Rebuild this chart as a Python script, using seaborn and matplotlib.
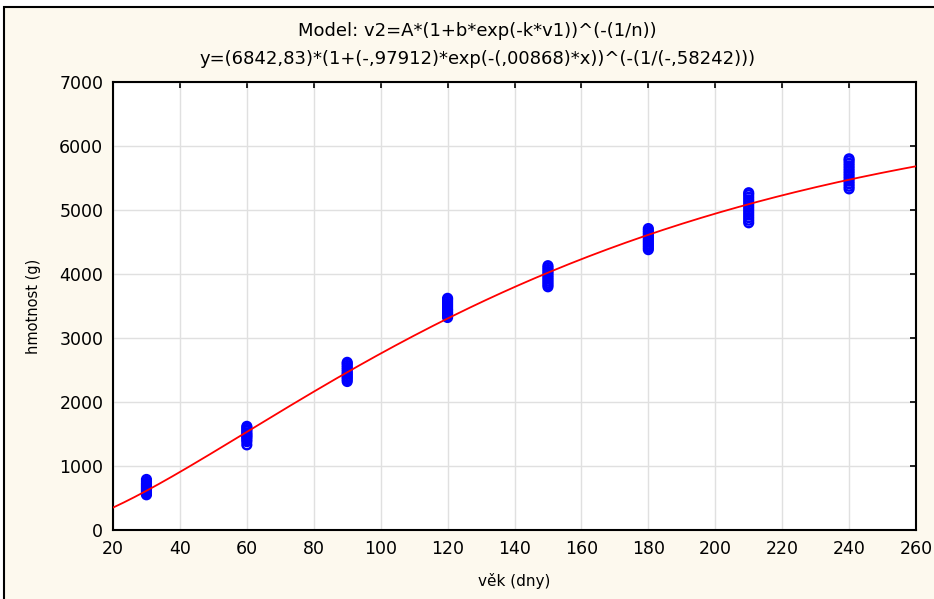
import numpy as np
import pandas as pd
import matplotlib
matplotlib.use('Agg')
import matplotlib.pyplot as plt
import seaborn as sns
from matplotlib.patches import Rectangle

# Dados: idade (dias) e hmotnost (g) de cada medição
ages = [30, 60, 90, 120, 150, 180, 210, 240]
weights = [
    [550, 570, 590, 610, 630, 650, 670, 690, 710, 730, 760, 790],
    [1330, 1380, 1410, 1440, 1460, 1480, 1500, 1520, 1550, 1570, 1600, 1620],
    [2320, 2350, 2380, 2400, 2430, 2450, 2480, 2510, 2540, 2570, 2600, 2620],
    [3320, 3350, 3380, 3400, 3430, 3450, 3480, 3510, 3540, 3570, 3600, 3620],
    [3800, 3830, 3860, 3890, 3920, 3950, 3980, 4010, 4040, 4070, 4100, 4130],
    [4380, 4410, 4440, 4470, 4500, 4530, 4560, 4590, 4620, 4650, 4680, 4710],
    [4800, 4840, 4880, 4920, 4960, 5000, 5040, 5080, 5120, 5160, 5200, 5240, 5270],
    [5330, 5370, 5410, 5450, 5490, 5530, 5570, 5610, 5650, 5690, 5730, 5770, 5800],
]

# Parâmetros do modelo (do título)
A, b, k, n = 6842.83, -0.97912, 0.00868, -0.58242

rows = [(a, w) for a, ws in zip(ages, weights) for w in ws]
df = pd.DataFrame(rows, columns=['vek', 'hmotnost'])

x_fit = np.linspace(20, 260, 300)
fit = pd.DataFrame({'vek': x_fit,
                    'hmotnost': A * (1 + b * np.exp(-k * x_fit)) ** (-(1 / n))})

sns.set_style('white')
plt.rcParams['font.family'] = ['DejaVu Sans']
plt.rcParams['text.color'] = 'black'
plt.rcParams['axes.labelcolor'] = 'black'

fig = plt.figure(figsize=(9.34, 5.99), dpi=100, facecolor='white')
# moldura creme com borda preta
fig.patches.append(Rectangle((0.004, -0.05), 1.1, 1.05 - 7 / 599, transform=fig.transFigure,
                             facecolor='#FDF9EE', edgecolor='black', linewidth=1.5, zorder=-1))
ax = fig.add_axes([113 / 934, 1 - 530 / 599, (916 - 113) / 934, (530 - 82) / 599])
ax.set_zorder(1)
ax.set_facecolor('white')

sns.scatterplot(data=df, x='vek', y='hmotnost', ax=ax, marker='o', s=40,
                facecolors='none', edgecolor='#0000FF', linewidth=1.7, zorder=3)
sns.lineplot(data=fit, x='vek', y='hmotnost', ax=ax, color='red', linewidth=1.3, zorder=4)

ax.set_xlim(20, 260)
ax.set_ylim(0, 7000)
ax.set_xticks(range(20, 261, 20))
ax.set_yticks(range(0, 7001, 1000))
ax.grid(True, color='#E0E0E0', linewidth=1)
ax.set_axisbelow(True)
for s in ax.spines.values():
    s.set_color('black')
    s.set_linewidth(1.5)
ax.tick_params(direction='in', length=4, width=1.2, top=True, right=True,
               labelsize=12.5, colors='black', pad=7)
ax.set_xlabel('věk (dny)', fontsize=11, labelpad=11)
ax.set_ylabel('hmotnost (g)', fontsize=10.5, labelpad=13)

fig.text(0.511, 1 - 31 / 599, 'Model: v2=A*(1+b*exp(-k*v1))^(-(1/n))',
         ha='center', va='center', fontsize=13)
fig.text(0.511, 1 - 59 / 599, 'y=(6842,83)*(1+(-,97912)*exp(-(,00868)*x))^(-(1/(-,58242)))',
         ha='center', va='center', fontsize=13)

fig.savefig('out.png', dpi=100, facecolor=fig.get_facecolor())
